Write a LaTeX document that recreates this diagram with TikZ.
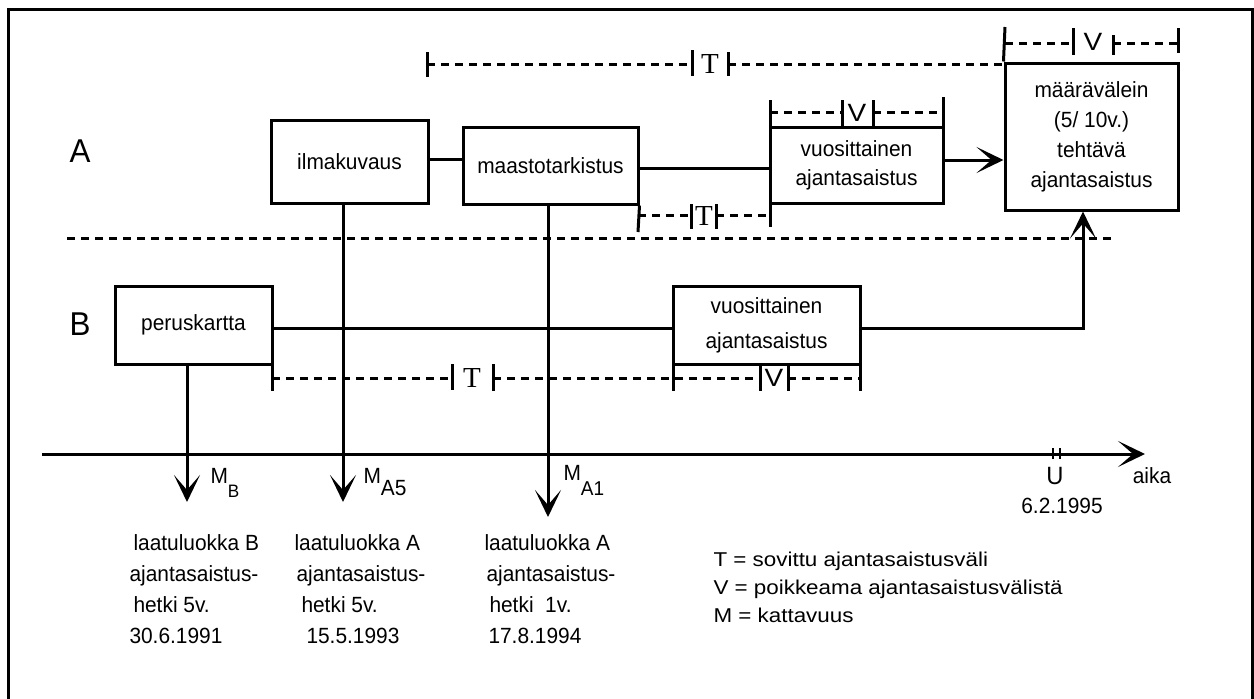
\documentclass[tikz,border=0pt]{standalone}
\usepackage{fontspec}
\setmainfont{Liberation Sans}[FakeStretch=0.95]
\newfontfamily\legfont{Liberation Sans}[FakeStretch=1.12]
\newfontfamily\serfont{Liberation Serif}
\usetikzlibrary{arrows.meta}
\begin{document}
\begin{tikzpicture}[x=1pt,y=-1pt,line width=3pt,
  box/.style={draw,rectangle,inner sep=0pt,align=center,font=\fontsize{22}{29}\selectfont},
  arr/.style={-{Stealth[length=27pt,width=26pt,inset=15pt]}},
  dim/.style={dash pattern=on 8pt off 6pt},
  tick/.style={line width=3pt},
  txt/.style={inner sep=0pt,align=left,font=\fontsize{22}{31}\selectfont},
  serT/.style={inner sep=0pt,font={\serfont\fontsize{29}{29}\selectfont}},
  vlab/.style={inner sep=0pt,font={\legfont\fontsize{25}{25}\selectfont}},
  plain/.style={inner sep=0pt,font=\fontsize{22}{22}\selectfont}]
\useasboundingbox (0,0) rectangle (1254,699);
% frame
\draw (8,699) -- (8,9.5) -- (1252,9.5) -- (1252,699);
% row labels
\node[inner sep=0pt,font=\fontsize{33}{33}\selectfont] (lA) at (80,151) {A};
\node[inner sep=0pt,font=\fontsize{33}{33}\selectfont] (lB) at (80,324) {B};
% boxes
\node[box,minimum width=157pt,minimum height=83pt] (ilma) at (349.5,161.5) {ilmakuvaus};
\node[box,minimum width=175pt,minimum height=77pt] (maasto) at (550.5,165.5) {maastotarkistus};
\node[box,minimum width=173pt,minimum height=76pt] (vuosiA) at (856.5,165) {vuosittainen\\ajantasaistus};
\node[box,minimum width=173pt,minimum height=147pt,font=\fontsize{22}{30}\selectfont] (maara) at (1091.5,136.5) {määrävälein\\(5/ 10v.)\\tehtävä\\ajantasaistus};
\node[box,minimum width=157pt,minimum height=78pt] (perus) at (193.5,325) {peruskartta};
\node[box,minimum width=187pt,minimum height=78pt,font=\fontsize{22}{35}\selectfont] (vuosiB) at (766.5,325) {vuosittainen\\ajantasaistus};
% coordinates
\coordinate (mB) at (187,502);
\coordinate (mA5) at (343,502);
\coordinate (mA1) at (548,517);
\coordinate (axL) at (42,454);
\coordinate (axR) at (1145,454);
\coordinate (divL) at (67,238);
\coordinate (divR) at (1115,238);
\coordinate (bend) at (1083,328);
% connectors
\draw ([yshift=2.5pt]ilma.east) -- ([yshift=2.5pt]ilma.east -| maasto.west);
\draw ([yshift=-2.5pt]maasto.east) -- ([yshift=-2.5pt]maasto.east -| vuosiA.west);
\draw[arr] ([yshift=5pt]vuosiA.east) -- ([yshift=5pt]vuosiA.east -| maara.west);
\draw[arr] (ilma.south -| mA5) -- (mA5);
\draw[arr] (maasto.south -| mA1) -- (mA1);
\draw[arr] (perus.south -| mB) -- (mB);
\draw ([yshift=-3pt]perus.east) -- ([yshift=-3pt]perus.east -| vuosiB.west);
\draw[arr] ([yshift=-3pt]vuosiB.east) -- (bend) -- (bend |- maara.south);
\draw[arr] (axL) -- (axR);
\draw[dim] (divL) -- (divR);
% top T bracket
\draw[dim] (427,64) -- (692,64);
\draw[dim] (728,64) -- (1005,64);
\draw[tick] (427,52) -- (427,77);
\draw[tick] (692,50) -- (692,76);
\draw[tick] (728,52) -- (728,76);
\node[serT] (tTop) at (710,64) {T};
% V above maara
\draw[dim] (1005,43) -- (1073,43);
\draw[dim] (1113,43) -- (1178,43);
\draw[tick] (1005,27) -- (maara.north west);
\draw[tick] (1178,28) -- (1178,53);
\draw[tick] (1073,28) -- (1073,55);
\draw[tick] (1113,35) -- (1113,55);
\node[vlab] (vTop) at (1093,42) {V};
% V above vuosiA
\draw[dim] (770,112) -- (842,112);
\draw[dim] (873,112) -- (943,112);
\draw[tick] (770,100) -- (770,227);
\draw[tick] (943,97) -- (943,127);
\draw[tick] (842,100) -- (842,127);
\draw[tick] (873,100) -- (873,127);
\node[vlab] (vA) at (857,113) {V};
% small T below maasto
\draw[dim] (638,215) -- (691,215);
\draw[dim] (716,215) -- (770,215);
\draw[tick] (maasto.south east) -- (638,232);
\draw[tick] (691,204) -- (691,229);
\draw[tick] (716,204) -- (716,229);
\node[serT] (tMid) at (704,216) {T};
% B row brackets
\draw[dim] (272,378) -- (452,378);
\draw[dim] (493,378) -- (760,378);
\draw[dim] (788,378) -- (860,378);
\draw[tick] (272,364) -- (272,391);
\draw[tick] (452,364) -- (452,390);
\draw[tick] (493,364) -- (493,391);
\draw[tick] (673,364) -- (673,391);
\draw[tick] (760,364) -- (760,391);
\draw[tick] (788,364) -- (788,391);
\draw[tick] (860,364) -- (860,391);
\node[serT] (tB) at (472,378) {T};
\node[vlab] (vB) at (774,378) {V};
% U tick on axis
\draw[line width=2pt] (1053,448) -- (1053,459) (1060,448) -- (1060,459);
\node[inner sep=0pt,font=\fontsize{25}{25}\selectfont] (lU) at (1055,476) {U};
\node[plain] (lDate) at (1062,506) {6.2.1995};
\node[plain] (lAika) at (1152,476) {aika};
% M labels
\node[plain,anchor=base west] (lMB) at (209,483) {M\raisebox{-14pt}{\fontsize{18}{18}\selectfont B}};
\node[plain,anchor=base west] (lMA5) at (362,483) {M\raisebox{-12pt}{A5}};
\node[plain,anchor=base west] (lMA1) at (562,480) {M\raisebox{-15pt}{\fontsize{20}{20}\selectfont A1}};
% bottom texts
\node[txt,anchor=north west] (c1) at (128,533) {\hspace*{4pt}laatuluokka B\\ajantasaistus-\\\hspace*{4pt}hetki 5v.\\30.6.1991};
\node[txt,anchor=north west] (c2) at (293,533) {laatuluokka A\\\hspace*{2pt}ajantasaistus-\\\hspace*{7pt}hetki 5v.\\\hspace*{12pt}15.5.1993};
\node[txt,anchor=north west] (c3) at (483,533) {laatuluokka A\\\hspace*{2pt}ajantasaistus-\\\hspace*{5pt}hetki\ \ 1v.\\\hspace*{4pt}17.8.1994};
% legend
\node[inner sep=0pt,anchor=north west,align=left,font={\legfont\fontsize{20}{28}\selectfont}] (leg) at (712,551) {T = sovittu ajantasaistusväli\\V = poikkeama ajantasaistusvälistä\\M = kattavuus};
\end{tikzpicture}
\end{document}
